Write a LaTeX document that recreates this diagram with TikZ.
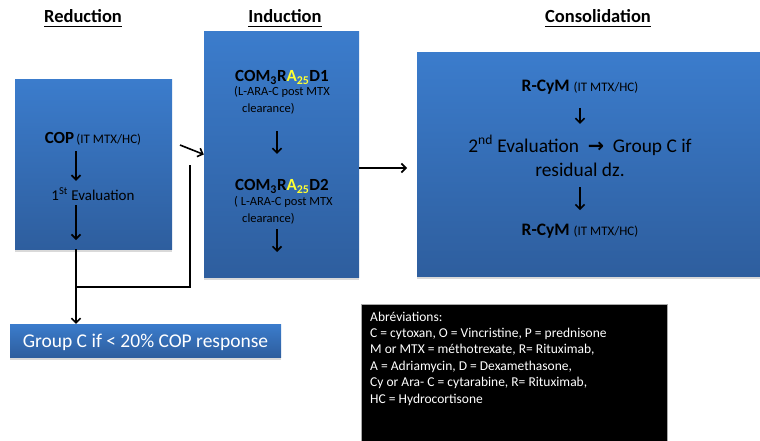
\documentclass[tikz,border=0pt]{standalone}
\usepackage{fontspec}
\setmainfont{Carlito}
\newfontfamily\arrfont{DejaVu Sans}
\usetikzlibrary{calc,positioning,arrows.meta,shadows}
\definecolor{btop}{HTML}{3B7CCC}
\definecolor{bbot}{HTML}{2E5E9E}
\definecolor{syel}{HTML}{FFFF33}
\definecolor{sgray}{HTML}{A8A8A8}
\newcommand{\fsz}[2]{\fontsize{#1}{#2}\selectfont}
\newcommand{\ulttl}[1]{\setbox0\hbox{#1}\rlap{\rule[-4.5pt]{\wd0}{1.5pt}}\box0}

\begin{document}
\begin{tikzpicture}[x=1pt,y=-1pt,
    BLU/.style={rectangle, top color=btop, bottom color=bbot, draw=none, inner sep=0pt, drop shadow={shadow xshift=0pt, shadow yshift=-2.5pt, opacity=0.3}},
    BLK/.style={rectangle, fill=black, draw=sgray, line width=0.8pt, inner sep=0pt},
    TTL/.style={font=\fsz{18.5}{22}\bfseries, inner sep=0pt, anchor=base},
    TXT/.style={inner sep=0pt, anchor=base, align=center},
    arr/.style={line width=1.6pt, -{Straight Barb[length=4.5pt,width=9pt]}},
    lin/.style={line width=1.6pt}
    ]
        \useasboundingbox (0,0) rectangle (760,441);
        \node[TTL] (titred) at (83,23) {\ulttl{Reduction}};
        \node[TTL] (titind) at (285,23) {\ulttl{Induction}};
        \node[TTL] (titcon) at (598,23) {\ulttl{Consolidation}};
        \node[BLU, minimum width=157pt, minimum height=169pt] (redbox) at (93.5,164.5) {};
        \node[BLU, minimum width=155pt, minimum height=245pt] (indbox) at (281.5,154.5) {};
        \node[BLU, minimum width=350pt, minimum height=223pt, anchor=west] (conbox) at (417,164.5) {};
        \node[BLU, minimum width=271pt, minimum height=33pt] (grpbox) at (145.5,340.5) {};
        \node[BLK, minimum width=306pt, minimum height=145pt, anchor=north west] (abbbox) at (361,304) {};
        % reduction
        \node[TXT] (cop) at (93,143) {{\fsz{17}{20}\bfseries COP} {\fsz{13}{16}(IT MTX/HC)}};
        \node[TXT, font=\fsz{15}{18}] (eval1) at (93,200) {1\textsuperscript{St} Evaluation};
        \coordinate (redend) at (76,240);
        \draw[arr, shorten <=6pt, shorten >=7pt] ([xshift=-17pt]cop.south) -- ([xshift=-17pt]eval1.north);
        \draw[arr, shorten <=5pt] ([xshift=-17pt]eval1.south) -- (redend);
        % induction
        \node[TXT, font=\fsz{17}{20}\bfseries] (d1) at (282,81.5) {COM\textsubscript{3}R\textcolor{syel}{A\textsubscript{25}}D1};
        \node[TXT, anchor=base west, align=left, font=\fsz{12.5}{17}] (d1n) at ($(d1.base west)+(-1,31.5)$) {(L-ARA-C post MTX\\\hspace*{8pt}clearance)};
        \node[TXT, font=\fsz{17}{20}\bfseries] (d2) at (282,190.7) {COM\textsubscript{3}R\textcolor{syel}{A\textsubscript{25}}D2};
        \node[TXT, anchor=base west, align=left, font=\fsz{12.5}{17}] (d2n) at ($(d2.base west)+(-1,31.8)$) {( L-ARA-C post MTX\\\hspace*{8pt}clearance)};
        \coordinate (indend) at (277,252);
        \draw[arr, shorten <=16pt, shorten >=25.5pt] (d1n.south -| indend) -- (d2.north -| indend);
        \draw[arr, shorten <=5pt] (d2n.south -| indend) -- (indend);
        % consolidation
        \node[TXT, font=\fsz{17.5}{20}] (rc1) at (580,92) {\textbf{R-CyM} {\fsz{13}{16}(IT MTX/HC)}};
        \node[TXT, font=\fsz{19.4}{23.5}] (ev2) at (580,176) {2\textsuperscript{nd} Evaluation\hspace{0.45em}{\arrfont\bfseries →}\hspace{0.45em}Group C if\\residual dz.};
        \node[TXT, font=\fsz{17.5}{20}] (rc2) at (580,235.7) {\textbf{R-CyM} {\fsz{13}{16}(IT MTX/HC)}};
        \draw[arr, shorten <=13pt, shorten >=11.5pt] (rc1.south) -- (ev2.north);
        \draw[arr, shorten <=11pt, shorten >=14pt] (ev2.south) -- (rc2.north);
        % links
        \coordinate (jn) at (76,287);
        \coordinate (gapend) at (190,165);
        \coordinate (dgs) at (180,145);
        \draw[lin] ([xshift=-17.5pt]redbox.south) -- (jn) -| (gapend);
        \draw[arr] (jn) -- (jn |- grpbox.north);
        \draw[arr] (dgs) -- (indbox.west);
        \draw[arr, shorten >=10pt] ([yshift=-13.5pt]indbox.east) -- ([yshift=-13.5pt]indbox.east -| conbox.west);
        % notes
        \node[TXT, text=white, font=\fsz{19.5}{22}] (grptxt) at (145.5,347) {Group C if < 20\% COP response};
        \node[TXT, anchor=base west, align=left, text=white, font=\fsz{13.5}{16.4}] (abbtxt) at (370,403) {Abréviations:\\C = cytoxan, O = Vincristine, P = prednisone\\M or MTX = méthotrexate, R= Rituximab,\\A = Adriamycin, D = Dexamethasone,\\Cy or Ara- C = cytarabine, R= Rituximab,\\HC = Hydrocortisone};
    \end{tikzpicture}
\end{document}
